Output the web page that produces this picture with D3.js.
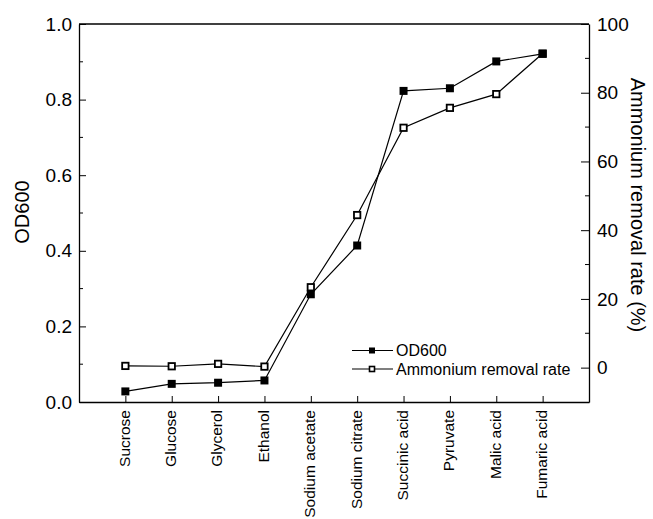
<!DOCTYPE html>
<html>
<head>
<meta charset="utf-8">
<script src="https://cdn.jsdelivr.net/npm/d3@7"></script>
<style>
  body { margin: 0; background: #fff; }
  svg { display: block; font-family: "Liberation Sans", Arial, Helvetica, sans-serif; }
</style>
</head>
<body>
<svg id="chart" width="653" height="519"></svg>
<script>
/*
 OD600 and ammonium removal rate by carbon source (dual y axis)
*/

const categories = ["Sucrose", "Glucose", "Glycerol", "Ethanol", "Sodium acetate",
    "Sodium citrate", "Succinic acid", "Pyruvate", "Malic acid", "Fumaric acid"];
const od600 = [0.028, 0.048, 0.051, 0.057, 0.285, 0.414, 0.823, 0.830, 0.901, 0.921];
const ammonium = [0.5, 0.4, 1.1, 0.3, 23.4, 44.4, 69.8, 75.6, 79.6, 91.4];
const leftTicks = [0, 0.2, 0.4, 0.6, 0.8, 1.0];
const leftMinor = [0.1, 0.3, 0.5, 0.7, 0.9];
const rightTicks = [0, 20, 40, 60, 80, 100];
const rightMinor = [10, 30, 50, 70, 90];

const margin = { top: 24, bottom: 117, left: 79, right: 64 };
const width = 653, height = 519;
const x0 = margin.left, x1 = width - margin.right;   // 79 .. 589
const y0 = height - margin.bottom, y1 = margin.top;  // 402 .. 24

const svg = d3.select("#chart");

const xscale = d3.scalePoint()
    .domain(categories)
    .range([x0, x1])
    .padding(1);

const yL = d3.scaleLinear().domain([0, 1]).range([y0, y1]);
const yR = d3.scaleLinear().domain([-10, 100]).range([y0, y1]);

const axisColor = "#000";

// left axis
const gl = svg.append("g")
    .attr("transform", `translate(${x0},0)`)
    .call(d3.axisLeft(yL).tickValues(leftTicks).tickFormat(d3.format(".1f"))
        .tickSizeInner(-7).tickSizeOuter(0).tickPadding(7));
gl.append("g").selectAll("line").data(leftMinor).join("line")
    .attr("x1", 0).attr("x2", 4)
    .attr("y1", d => yL(d)).attr("y2", d => yL(d))
    .attr("stroke", axisColor);

// right axis
const gr = svg.append("g")
    .attr("transform", `translate(${x1},0)`)
    .call(d3.axisRight(yR).tickValues(rightTicks)
        .tickSizeInner(-8).tickSizeOuter(0).tickPadding(8));
gr.append("g").selectAll("line").data(rightMinor).join("line")
    .attr("x1", 0).attr("x2", -4)
    .attr("y1", d => yR(d)).attr("y2", d => yR(d))
    .attr("stroke", axisColor);

// bottom axis
const gb = svg.append("g")
    .attr("transform", `translate(0,${y0})`)
    .call(d3.axisBottom(xscale).tickSizeInner(-6).tickSizeOuter(0));
gb.selectAll(".tick text")
    .attr("transform", "rotate(-90)")
    .attr("x", -8)
    .attr("y", 0)
    .attr("dy", "0.25em")
    .attr("text-anchor", "end")
    .attr("font-size", 15.5);

// top frame line
svg.append("line")
    .attr("x1", x0).attr("x2", x1)
    .attr("y1", y1).attr("y2", y1)
    .attr("stroke", axisColor).attr("stroke-width", 1.3);

[gl, gr, gb].forEach(g => {
    g.attr("font-family", null);
    g.selectAll(".domain").attr("stroke", axisColor).attr("stroke-width", 1.3);
    g.selectAll(".tick line").attr("stroke", axisColor);
});
gl.selectAll(".tick text").attr("font-size", 19).attr("fill", "#000");
gr.selectAll(".tick text").attr("font-size", 19).attr("fill", "#000");
gb.selectAll(".tick text").attr("fill", "#000");

// axis titles
svg.append("text")
    .attr("transform", `translate(29,212) rotate(-90)`)
    .attr("text-anchor", "middle")
    .attr("font-size", 20)
    .text("OD600");

svg.append("text")
    .attr("transform", `translate(631,205) rotate(90)`)
    .attr("text-anchor", "middle")
    .attr("font-size", 20)
    .text("Ammonium removal rate (%)");

// series
const msize = 8;
const lineL = d3.line().x((d, i) => xscale(categories[i])).y(d => yL(d));
const lineR = d3.line().x((d, i) => xscale(categories[i])).y(d => yR(d));

svg.append("path")
    .datum(ammonium)
    .attr("d", lineR)
    .attr("fill", "none").attr("stroke", "#000").attr("stroke-width", 1.2);
svg.append("path")
    .datum(od600)
    .attr("d", lineL)
    .attr("fill", "none").attr("stroke", "#000").attr("stroke-width", 1.2);

svg.append("g").selectAll("rect").data(ammonium).join("rect")
    .attr("x", (d, i) => xscale(categories[i]) - (msize - 1.6) / 2)
    .attr("y", d => yR(d) - (msize - 1.6) / 2)
    .attr("width", msize - 1.6).attr("height", msize - 1.6)
    .attr("fill", "#fff").attr("stroke", "#000").attr("stroke-width", 1.8);

svg.append("g").selectAll("rect").data(od600).join("rect")
    .attr("x", (d, i) => xscale(categories[i]) - msize / 2)
    .attr("y", d => yL(d) - msize / 2)
    .attr("width", msize).attr("height", msize)
    .attr("fill", "#000");

// legend (rows spaced so the text boxes do not overlap)
const legend = svg.append("g").attr("transform", "translate(352,350.5)");
const legendItems = [
    { label: "OD600", filled: true },
    { label: "Ammonium removal rate", filled: false },
];
legendItems.forEach((it, i) => {
    const g = legend.append("g").attr("transform", `translate(0,${i * 18.5})`);
    g.append("line").attr("x1", 0).attr("x2", 41).attr("y1", 0).attr("y2", 0)
        .attr("stroke", "#000").attr("stroke-width", 1.2);
    if (it.filled) {
        g.append("rect").attr("x", 17).attr("y", -3).attr("width", 6).attr("height", 6)
            .attr("fill", "#000");
    } else {
        g.append("rect").attr("x", 17.5).attr("y", -2.5).attr("width", 5).attr("height", 5)
            .attr("fill", "#fff").attr("stroke", "#000").attr("stroke-width", 1.6);
    }
    g.append("text").attr("x", 44).attr("dy", "0.36em")
        .attr("font-size", 16)
        .text(it.label);
});
</script>
</body>
</html>
